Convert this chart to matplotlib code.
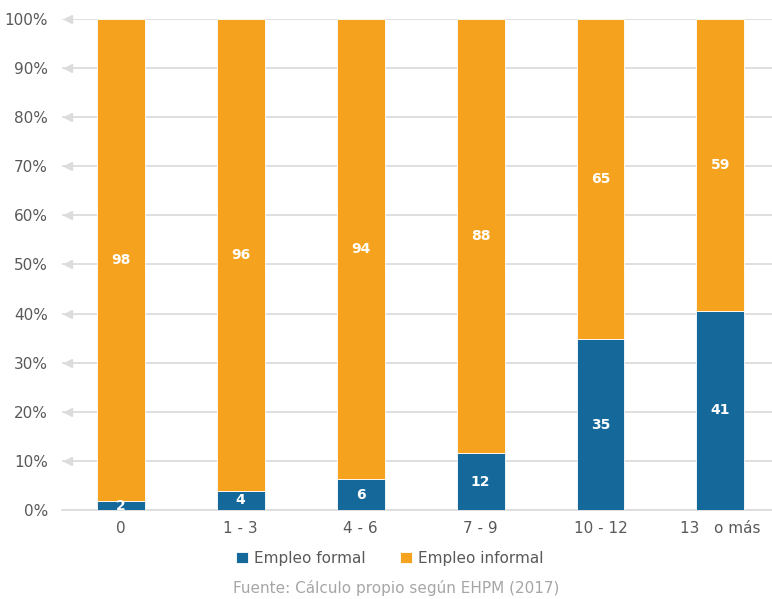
from matplotlib import pyplot as plt
import matplotlib.transforms as mtransforms

# Años de escolaridad
categorias = ["0", "1 - 3", "4 - 6", "7 - 9", "10 - 12", "13   o más"]
formal = [1.8, 3.9, 6.3, 11.6, 34.8, 40.6]
informal = [100 - v for v in formal]
etiq_formal = [2, 4, 6, 12, 35, 41]
etiq_informal = [98, 96, 94, 88, 65, 59]

azul = '#15689A'
naranja = '#F5A31F'
gris = '#595959'

fig = plt.figure(figsize=(7.72, 5.99), dpi=100)
ax = fig.add_axes([0.0803, 0.1486, 0.9197, 0.8197])

x = list(range(len(categorias)))
ax.bar(x, formal, width=0.4, color=azul, edgecolor='white', linewidth=0.6,
       label='Empleo formal', zorder=3)
ax.bar(x, informal, width=0.4, bottom=formal, color=naranja, edgecolor='white',
       linewidth=0.6, label='Empleo informal', zorder=3)

for i in x:
    ax.text(i, formal[i] / 2, str(etiq_formal[i]), ha='center', va='center',
            color='white', fontsize=10, fontweight='bold', zorder=4)
    ax.text(i, formal[i] + informal[i] / 2, str(etiq_informal[i]), ha='center',
            va='center', color='white', fontsize=10, fontweight='bold', zorder=4)

ax.set_xlim(-0.49, 5.43)
ax.set_ylim(0, 100)
ax.set_yticks(range(0, 101, 10))
ax.set_yticklabels([f"{v}%" for v in range(0, 101, 10)])
ax.set_xticks(x)
ax.set_xticklabels(categorias)
ax.tick_params(axis='both', length=0, labelsize=11, colors=gris)
ax.tick_params(axis='y', pad=10)
ax.tick_params(axis='x', pad=8)

for s in ['top', 'right', 'left']:
    ax.spines[s].set_visible(False)
ax.spines['bottom'].set_color('#dcdcdc')
ax.spines['bottom'].set_linewidth(1.3)

ax.yaxis.grid(True, color='#dcdcdc', linewidth=1.3, zorder=0)
ax.set_axisbelow(True)

# flechitas a la izquierda de las líneas de guía
trans = mtransforms.blended_transform_factory(ax.transAxes, ax.transData)
for v in range(10, 101, 10):
    ax.plot(0.008, v, marker='<', color='#dcdcdc', markersize=6,
            transform=trans, clip_on=False, zorder=1)

fig.legend(loc='center', bbox_to_anchor=(0.505, 0.068), ncol=2, frameon=False,
           fontsize=11, labelcolor=gris, handlelength=0.8, handleheight=0.8,
           handletextpad=0.4, columnspacing=2.2)

fig.text(0.513, 0.018, "Fuente: Cálculo propio según EHPM (2017)", ha='center',
         va='center', fontsize=11, color='#a6a6a6')

plt.savefig('out.png', dpi=100)
